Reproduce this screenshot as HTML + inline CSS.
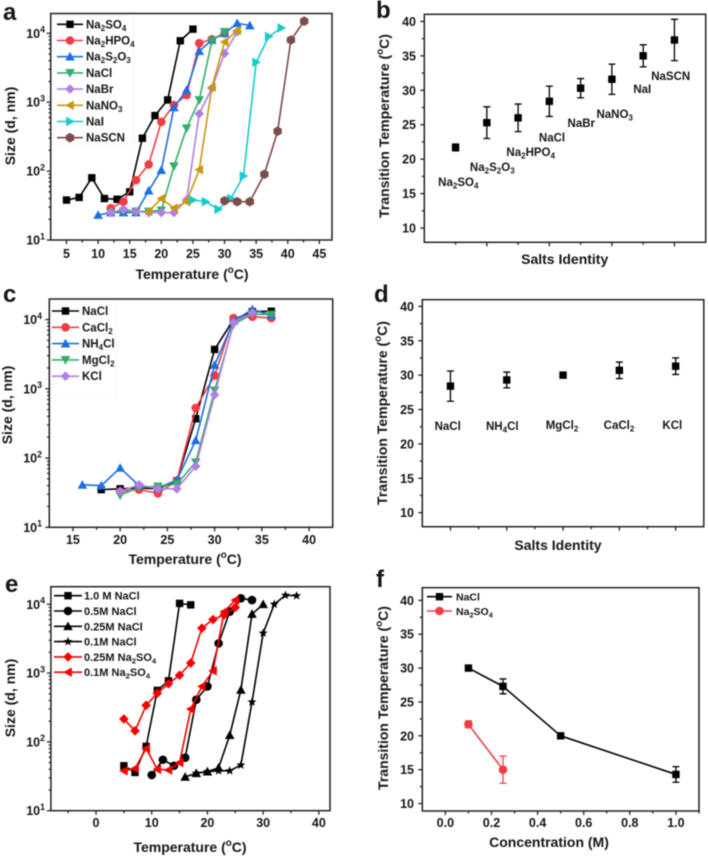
<!DOCTYPE html>
<html lang="en">
<head>
<meta charset="utf-8">
<title>Transition temperature charts</title>
<style>
html,body{margin:0;padding:0;background:#fff;width:708px;height:858px;overflow:hidden}
svg{display:block;filter:blur(0.5px)}
text{font-family:"Liberation Sans",sans-serif;font-weight:bold;fill:#161616}
</style>
</head>
<body>
<svg id="figure" xmlns="http://www.w3.org/2000/svg" width="708" height="858" viewBox="0 0 708 858"></svg>
<script>
/* ---------- Panel a ---------- */
var aSeriesNames = ['Na_2SO_4','Na_2HPO_4','Na_2S_2O_3','NaCl','NaBr','NaNO_3','NaI','NaSCN'];
var aXTicks = [5,10,15,20,25,30,35,40,45];
var aNa2SO4X = [5,7,9,11,13,15,17,19,21,23,25];
var aNa2SO4Y = [38,41.5,80,40,39,50,300,640,1080,7800,11500];
var aNa2HPO4X = [12,14,16,18,20,22,24,26,28,30];
var aNa2HPO4Y = [29,36,74,125,520,910,1270,7200,8200,10000];
var aNa2S2O3X = [10,12,14,16,18,20,22,24,26,28,30,32,34];
var aNa2S2O3Y = [23,25,25,25,52,103,840,1500,5500,8000,10000,14000,13000];
var aNaClX = [12,14,16,18,20,22,24,26,28,30];
var aNaClY = [25,26,26,26,27,118,420,1080,7800,10500];
var aNaBrX = [12,14,16,18,20,22,24,26,28,30,32];
var aNaBrY = [25,28,26,25,25,25,38,680,1600,5100,10500];
var aNaNO3X = [18,20,22,24,26,28,30,32];
var aNaNO3Y = [26,40,29,36,105,1650,7500,11000];
var aNaIX = [25,27,29,31,33,35,37,39];
var aNaIY = [38,36,28,40,85,3800,9000,12000];
var aNaSCNX = [30,32,34,36.3,38.4,40.5,42.6];
var aNaSCNY = [37,36,36,90,380,8000,15000];

/* ---------- Panel b ---------- */
var bCategories = ['Na_2SO_4','Na_2S_2O_3','Na_2HPO_4','NaCl','NaBr','NaNO_3','NaI','NaSCN'];
var bValues = [21.7,25.3,26,28.4,30.3,31.6,35,37.3];
var bErrors = [0.5,2.3,2,2.2,1.4,2.2,1.6,3];
var tempTicks = [10,15,20,25,30,35,40];

/* ---------- Panel c ---------- */
var cSeriesNames = ['NaCl','CaCl_2','NH_4Cl','MgCl_2','KCl'];
var cXTicks = [15,20,25,30,35,40];
var cNaClX = [18,20,22,24,26,28,30,32,34,36];
var cNaClY = [35,36,37,36,47,370,3700,10000,13000,13200];
var cCaCl2X = [20,22,24,26,28,30,32,34,36];
var cCaCl2Y = [33,35,31,47,530,1550,10500,11000,10500];
var cNH4ClX = [16,18,20,22,24,26,28,30,32,34,36];
var cNH4ClY = [41,40,72,40,37,48,180,2200,9500,14000,11500];
var cMgCl2X = [20,22,24,26,28,30,32,34,36];
var cMgCl2Y = [29,38,39,42,87,950,8500,12000,11800];
var cKClX = [20,22,24,26,28,30,32,34];
var cKClY = [33,41,36,36,76,820,9000,12500];

/* ---------- Panel d ---------- */
var dCategories = ['NaCl','NH_4Cl','MgCl_2','CaCl_2','KCl'];
var dValues = [28.4,29.3,30,30.7,31.3];
var dErrors = [2.2,1.15,0,1.2,1.2];

/* ---------- Panel e ---------- */
var eSeriesNames = ['1.0 M NaCl','0.5M NaCl','0.25M NaCl','0.1M NaCl','0.25M Na_2SO_4','0.1M Na_2SO_4'];
var eXTicks = [0,10,20,30,40];
var e10NaClX = [5,7,9,11,13,15,17];
var e10NaClY = [45,36,86,560,770,10300,9800];
var e05NaClX = [10,12,14,16,18,20,22,24,26,28];
var e05NaClY = [33,55,45,59,410,640,2700,7800,12200,11500];
var e025NaClX = [16,18,20,22,24,26,28,30];
var e025NaClY = [31,35,37,42,125,570,7200,10000];
var e01NaClX = [18,20,22,24,26,28,30,32,34,36];
var e01NaClY = [35,37,38,38,46,380,3800,10000,13500,13300];
var e025SulfX = [5,7,9,11,13,15,17,19,21,23,25];
var e025SulfY = [215,145,340,510,700,930,1400,4500,6000,7000,9000];
var e01SulfX = [5,7,9,11,13,15,17,19,21,23,25];
var e01SulfY = [38,41,80,40,39,50,300,640,1080,7800,11500];

/* ---------- Panel f ---------- */
var fSeriesNames = ['NaCl','Na_2SO_4'];
var fXTicks = [0,0.2,0.4,0.6,0.8,1.0];
var fNaClX = [0.1,0.25,0.5,1.0];
var fNaClY = [30,27.3,20,14.3];
var fNaClErr = [0,1.1,0,1.15];
var fSulfX = [0.1,0.25];
var fSulfY = [21.7,15];
var fSulfErr = [0.5,2];

var logTicks = [10,100,1000,10000];
var C = {black:'#000000',red:'#f23c42',blue:'#1c6fe3',green:'#35ad6a',purple:'#b07fe2',gold:'#c9980f',cyan:'#14cccc',brown:'#7b4c4c',pure:'#f50000'};
var NS = 'http://www.w3.org/2000/svg';
var root = document.getElementById('figure');

function mk(tag, attrs, name, parent) {
  var el = document.createElementNS(NS, tag);
  for (var k in attrs) el.setAttribute(k, attrs[k]);
  
  
  (parent || root).appendChild(el);
  return el;
}
/* rich text: _x subscript, ^x superscript */
function rich(str, x, y, size, anchor, name, parent, rotate, spacing) {
  var attrs = {x:x, y:y, 'font-size':size, 'text-anchor':anchor || 'start'};
  if (rotate) attrs.transform = 'rotate(-90 ' + x + ' ' + y + ')';
  if (spacing) attrs['letter-spacing'] = spacing;
  var t = mk('text', attrs, name, parent);
  var shift = 0, buf = '';
  function flush(dy, fs) {
    if (!buf && !fs) return;
    var s = document.createElementNS(NS, 'tspan');
    s.textContent = buf;
    if (dy) s.setAttribute('dy', dy);
    if (fs) s.setAttribute('font-size', fs);
    t.appendChild(s);
    buf = '';
  }
  for (var i = 0; i < str.length; i++) {
    var c = str[i];
    if ((c === '_' || c === '^') && i + 1 < str.length) {
      flush();
      var d = (c === '_' ? 0.22 : -0.42) * size;
      buf = str[++i];
      flush(d, size * 0.7);
      shift = -d;
      var s2 = document.createElementNS(NS, 'tspan');
      s2.setAttribute('dy', shift);
      s2.textContent = '\u200b';
      t.appendChild(s2);
    } else buf += c;
  }
  flush();
  return t;
}
function marker(type, x, y, color, name, g, s) {
  s = s || 1;
  var a = {fill: color};
  var r;
  if (type === 'square') { r = 3.7 * s; a.x = x - r; a.y = y - r; a.width = 2 * r; a.height = 2 * r; return mk('rect', a, name, g); }
  if (type === 'circle') { a.cx = x; a.cy = y; a.r = 4.3 * s; return mk('circle', a, name, g); }
  var pts;
  r = 4.8 * s;
  if (type === 'up') pts = [[0,-r],[r,r*0.8],[-r,r*0.8]];
  if (type === 'down') pts = [[0,r],[r,-r*0.8],[-r,-r*0.8]];
  if (type === 'left') pts = [[-r,0],[r*0.8,-r],[r*0.8,r]];
  if (type === 'right') pts = [[r,0],[-r*0.8,-r],[-r*0.8,r]];
  if (type === 'diamond') pts = [[0,-r],[r,0],[0,r],[-r,0]];
  if (type === 'hex') pts = [[0,-r],[r*0.87,-r*0.5],[r*0.87,r*0.5],[0,r],[-r*0.87,r*0.5],[-r*0.87,-r*0.5]];
  if (type === 'star') {
    pts = [];
    for (var i = 0; i < 10; i++) {
      var rad = (i % 2 ? 2 : 4.8) * s, ang = -Math.PI / 2 + i * Math.PI / 5;
      pts.push([rad * Math.cos(ang), rad * Math.sin(ang)]);
    }
  }
  a.points = pts.map(function (p) { return (x + p[0]).toFixed(2) + ',' + (y + p[1]).toFixed(2); }).join(' ');
  return mk('polygon', a, name, g);
}
function makePanel(id, l, t, r, b, xd, yd, isLog) {
  var g = mk('g', {}, 'panel-' + id);
  var p = {g:g, id:id, l:l, t:t, r:r, b:b};
  p.x = function (v) { return l + (v - xd[0]) / (xd[1] - xd[0]) * (r - l); };
  p.y = isLog
    ? function (v) { return b - (Math.log10(v) - Math.log10(yd[0])) / (Math.log10(yd[1]) - Math.log10(yd[0])) * (b - t); }
    : function (v) { return b - (v - yd[0]) / (yd[1] - yd[0]) * (b - t); };
  p.xd = xd; p.yd = yd; p.isLog = isLog;
  return p;
}
function tick(p, x1, y1, x2, y2, name) {
  mk('line', {x1:x1, y1:y1, x2:x2, y2:y2, stroke:'#222', 'stroke-width':1.3}, name, p.g);
}
function drawFrame(p) {
  mk('rect', {x:p.l, y:p.t, width:p.r - p.l, height:p.b - p.t, fill:'none', stroke:'#222', 'stroke-width':1.5}, p.id + '-plot-frame', p.g);
}
function xAxis(p, ticks, minorStep, baseline, fmt) {
  ticks.forEach(function (v) {
    tick(p, p.x(v), p.b, p.x(v), p.b + 4, p.id + '-x-tick');
    if (fmt) rich(fmt(v), p.x(v), baseline, 12.5, 'middle', p.id + '-x-tick-label', p.g);
  });
  if (minorStep) {
    for (var v = ticks[0] - minorStep; v < p.xd[1]; v += 2 * minorStep) {
      if (v > p.xd[0]) tick(p, p.x(v), p.b, p.x(v), p.b + 2.5, p.id + '-x-minor-tick');
    }
  }
}
function yAxisLog(p, labelX) {
  logTicks.forEach(function (v) {
    var e = Math.round(Math.log10(v));
    tick(p, p.l - 4, p.y(v), p.l, p.y(v), p.id + '-y-tick');
    rich('10^' + e, labelX, p.y(v) + 4.5, 12.5, 'end', p.id + '-y-tick-label', p.g);
    for (var m = 2; m < 10; m++) {
      if (v * m < p.yd[1]) tick(p, p.l - 2.2, p.y(v * m), p.l, p.y(v * m), p.id + '-y-minor-tick');
    }
  });
}
function yAxisLinear(p, labelX) {
  tempTicks.forEach(function (v) {
    tick(p, p.l - 4, p.y(v), p.l, p.y(v), p.id + '-y-tick');
    rich(String(v), labelX, p.y(v) + 4.5, 12.5, 'end', p.id + '-y-tick-label', p.g);
    if (v < 40) tick(p, p.l - 2.5, p.y(v + 2.5), p.l, p.y(v + 2.5), p.id + '-y-minor-tick');
  });
}
function series(p, xs, ys, color, type, name, s) {
  var g = mk('g', {}, p.id + '-series-' + name, p.g);
  var pts = xs.map(function (v, i) { return p.x(v).toFixed(2) + ',' + p.y(ys[i]).toFixed(2); }).join(' ');
  mk('polyline', {points:pts, fill:'none', stroke:color, 'stroke-width':1.6, 'stroke-linejoin':'round'}, p.id + '-line-' + name, g);
  xs.forEach(function (v, i) { marker(type, p.x(v), p.y(ys[i]), color, p.id + '-point-' + name, g, s); });
}
function errorBar(p, xv, yv, err, color, name) {
  if (!err) return;
  var x = p.x(xv), y1 = p.y(yv - err), y2 = p.y(yv + err);
  var d = 'M' + x + ' ' + y1 + 'V' + y2 + 'M' + (x - 3.5) + ' ' + y1 + 'H' + (x + 3.5) + 'M' + (x - 3.5) + ' ' + y2 + 'H' + (x + 3.5);
  mk('path', {d:d, fill:'none', stroke:color, 'stroke-width':1.3}, name, p.g);
}
function legendRow(p, label, color, type, x1, x2, tx, y, size, spacing) {
  var slug = label.replace(/[^A-Za-z0-9.]/g, '').toLowerCase();
  var g = mk('g', {}, p.id + '-legend-entry-' + slug, p.g);
  mk('line', {x1:x1, y1:y, x2:x2, y2:y, stroke:color, 'stroke-width':1.6}, p.id + '-legend-line', g);
  marker(type, (x1 + x2) / 2, y, color, p.id + '-legend-marker', g);
  rich(label, tx, y + 4, size, 'start', p.id + '-legend-label', g, false, spacing);
}
function panelLetter(letter, x, y) {
  rich(letter, x, y, 24, 'start', 'panel-letter-' + letter, root);
}

/* ===== Panel a ===== */
var pa = makePanel('a', 50.7, 13.5, 332, 240, [2.5,47], [10,19400], true);
var aColors = [C.black,C.red,C.blue,C.green,C.purple,C.gold,C.cyan,C.brown];
var aTypes = ['square','circle','up','down','diamond','left','right','hex'];
series(pa, aNa2SO4X, aNa2SO4Y, aColors[0], aTypes[0], 'na2so4');
series(pa, aNa2HPO4X, aNa2HPO4Y, aColors[1], aTypes[1], 'na2hpo4');
series(pa, aNa2S2O3X, aNa2S2O3Y, aColors[2], aTypes[2], 'na2s2o3');
series(pa, aNaClX, aNaClY, aColors[3], aTypes[3], 'nacl');
series(pa, aNaBrX, aNaBrY, aColors[4], aTypes[4], 'nabr');
series(pa, aNaNO3X, aNaNO3Y, aColors[5], aTypes[5], 'nano3');
series(pa, aNaIX, aNaIY, aColors[6], aTypes[6], 'nai');
series(pa, aNaSCNX, aNaSCNY, aColors[7], aTypes[7], 'nascn');
drawFrame(pa);
xAxis(pa, aXTicks, 2.5, 258, String);
yAxisLog(pa, 45);
mk('rect', {x:53, y:15, width:81, height:129, fill:'#fff', stroke:'#f0f0f0', 'stroke-width':0.6}, 'a-legend-box', pa.g);
aSeriesNames.forEach(function (n, i) {
  legendRow(pa, n, aColors[i], aTypes[i], 57, 83, 86, 24.3 + i * 16.2, 11.5);
});
rich('Temperature (^oC)', 192, 279, 14, 'middle', 'a-x-axis-title', pa.g);
rich('Size (d, nm)', 15, 126, 14, 'middle', 'a-y-axis-title', pa.g, true);
panelLetter('a', 3, 20);

/* ===== Panel b ===== */
var pb = makePanel('b', 424.3, 14.3, 705.7, 242.3, [0,9], [7.93,41.03], false);
drawFrame(pb);
xAxis(pb, [2,4,6,8], 1, 0, null);
yAxisLinear(pb, 416);
bValues.forEach(function (v, i) {
  errorBar(pb, i + 1, v, bErrors[i], C.black, 'b-error-bar');
  marker('square', pb.x(i + 1), pb.y(v), C.black, 'b-point', pb.g);
});
function bLabel(i, x, y) { rich(bCategories[i], x, y, 11.5, 'middle', 'b-category-label', pb.g); }
bLabel(0, 458.3, 186);
bLabel(1, 492.3, 171);
bLabel(2, 530.7, 156);
bLabel(3, 552, 141.5);
bLabel(4, 581.3, 127);
bLabel(5, 614.7, 118);
bLabel(6, 642.3, 93);
bLabel(7, 670.7, 80);
rich('Salts Identity', 564.7, 264, 14, 'middle', 'b-x-axis-title', pb.g);
rich('Transition Temperature (^oC)', 389, 126, 14, 'middle', 'b-y-axis-title', pb.g, true);
panelLetter('b', 376, 18);

/* ===== Panel c ===== */
var pc = makePanel('c', 49.3, 299, 332.7, 527.3, [12.5,42.5], [10,19800], true);
var cColors = [C.black,C.red,C.blue,C.green,C.purple];
var cTypes = ['square','circle','up','down','diamond'];
series(pc, cNaClX, cNaClY, cColors[0], cTypes[0], 'nacl');
series(pc, cCaCl2X, cCaCl2Y, cColors[1], cTypes[1], 'cacl2');
series(pc, cNH4ClX, cNH4ClY, cColors[2], cTypes[2], 'nh4cl');
series(pc, cMgCl2X, cMgCl2Y, cColors[3], cTypes[3], 'mgcl2');
series(pc, cKClX, cKClY, cColors[4], cTypes[4], 'kcl');
drawFrame(pc);
xAxis(pc, cXTicks, 2.5, 544, String);
yAxisLog(pc, 42);
mk('rect', {x:51, y:301, width:64, height:97, fill:'#fff', stroke:'#f4f4f4', 'stroke-width':0.6}, 'c-legend-box', pc.g);
cSeriesNames.forEach(function (n, i) {
  legendRow(pc, n, cColors[i], cTypes[i], 52, 79, 82, 311 + i * 16.3, 11.5);
});
rich('Temperature (^oC)', 185, 564, 14, 'middle', 'c-x-axis-title', pc.g);
rich('Size (d, nm)', 12, 405, 14, 'middle', 'c-y-axis-title', pc.g, true);
panelLetter('c', 3, 302);

/* ===== Panel d ===== */
var pd = makePanel('d', 422.3, 299.7, 703.8, 526.7, [0.5,5.5], [7.96,40.97], false);
drawFrame(pd);
xAxis(pd, [1,2,3,4,5], 0.5, 0, null);
yAxisLinear(pd, 414);
dValues.forEach(function (v, i) {
  errorBar(pd, i + 1, v, dErrors[i], C.black, 'd-error-bar');
  marker('square', pd.x(i + 1), pd.y(v), C.black, 'd-point', pd.g);
});
function dLabel(i, x, y) { rich(dCategories[i], x, y, 11.5, 'middle', 'd-category-label', pd.g); }
dLabel(0, 447.7, 430);
dLabel(1, 502.3, 430);
dLabel(2, 562, 429);
dLabel(3, 619, 429);
dLabel(4, 672.3, 429);
rich('Salts Identity', 558, 550, 14, 'middle', 'd-x-axis-title', pd.g);
rich('Transition Temperature (^oC)', 387, 413, 14, 'middle', 'd-y-axis-title', pd.g, true);
panelLetter('d', 374, 302);

/* ===== Panel e ===== */
var pe = makePanel('e', 50.9, 586.7, 330, 810.7, [-8.1,42], [10,18000], true);
series(pe, e10NaClX, e10NaClY, C.black, 'square', '1m-nacl');
series(pe, e05NaClX, e05NaClY, C.black, 'circle', '05m-nacl');
series(pe, e025NaClX, e025NaClY, C.black, 'up', '025m-nacl');
series(pe, e01NaClX, e01NaClY, C.black, 'star', '01m-nacl');
series(pe, e025SulfX, e025SulfY, C.pure, 'diamond', '025m-na2so4');
series(pe, e01SulfX, e01SulfY, C.pure, 'left', '01m-na2so4');
drawFrame(pe);
xAxis(pe, eXTicks, 5, 827, String);
yAxisLog(pe, 45);
var eColors = [C.black,C.black,C.black,C.black,C.pure,C.pure];
var eTypes = ['square','circle','up','star','diamond','left'];
eSeriesNames.forEach(function (n, i) {
  legendRow(pe, n, eColors[i], eTypes[i], 54, 82, 84, 595.7 + i * 15.3, 11);
});
rich('Temperature (^oC)', 190, 852, 14, 'middle', 'e-x-axis-title', pe.g);
rich('Size (d, nm)', 15, 698, 14, 'middle', 'e-y-axis-title', pe.g, true);
panelLetter('e', 5, 592);

/* ===== Panel f ===== */
var pf = makePanel('f', 422.3, 587.7, 699, 811, [-0.1,1.1], [8.9,41.87], false);
series(pf, fNaClX, fNaClY, C.black, 'square', 'nacl');
fNaClX.forEach(function (v, i) { errorBar(pf, v, fNaClY[i], fNaClErr[i], C.black, 'f-nacl-error-bar'); });
series(pf, fSulfX, fSulfY, C.red, 'circle', 'na2so4');
fSulfX.forEach(function (v, i) { errorBar(pf, v, fSulfY[i], fSulfErr[i], C.red, 'f-na2so4-error-bar'); });
drawFrame(pf);
xAxis(pf, fXTicks, 0.1, 827, function (v) { return v.toFixed(1); });
yAxisLinear(pf, 414);
fSeriesNames.forEach(function (n, i) {
  legendRow(pf, n, i ? C.red : C.black, i ? 'circle' : 'square', 427, 452, 456, 596.7 + i * 14.3, 10.5);
});
rich('Concentration (M)', 549, 847, 14, 'middle', 'f-x-axis-title', pf.g);
rich('Transition Temperature (^oC)', 388, 698, 14, 'middle', 'f-y-axis-title', pf.g, true);
panelLetter('f', 376, 587);
</script>
</body>
</html>
